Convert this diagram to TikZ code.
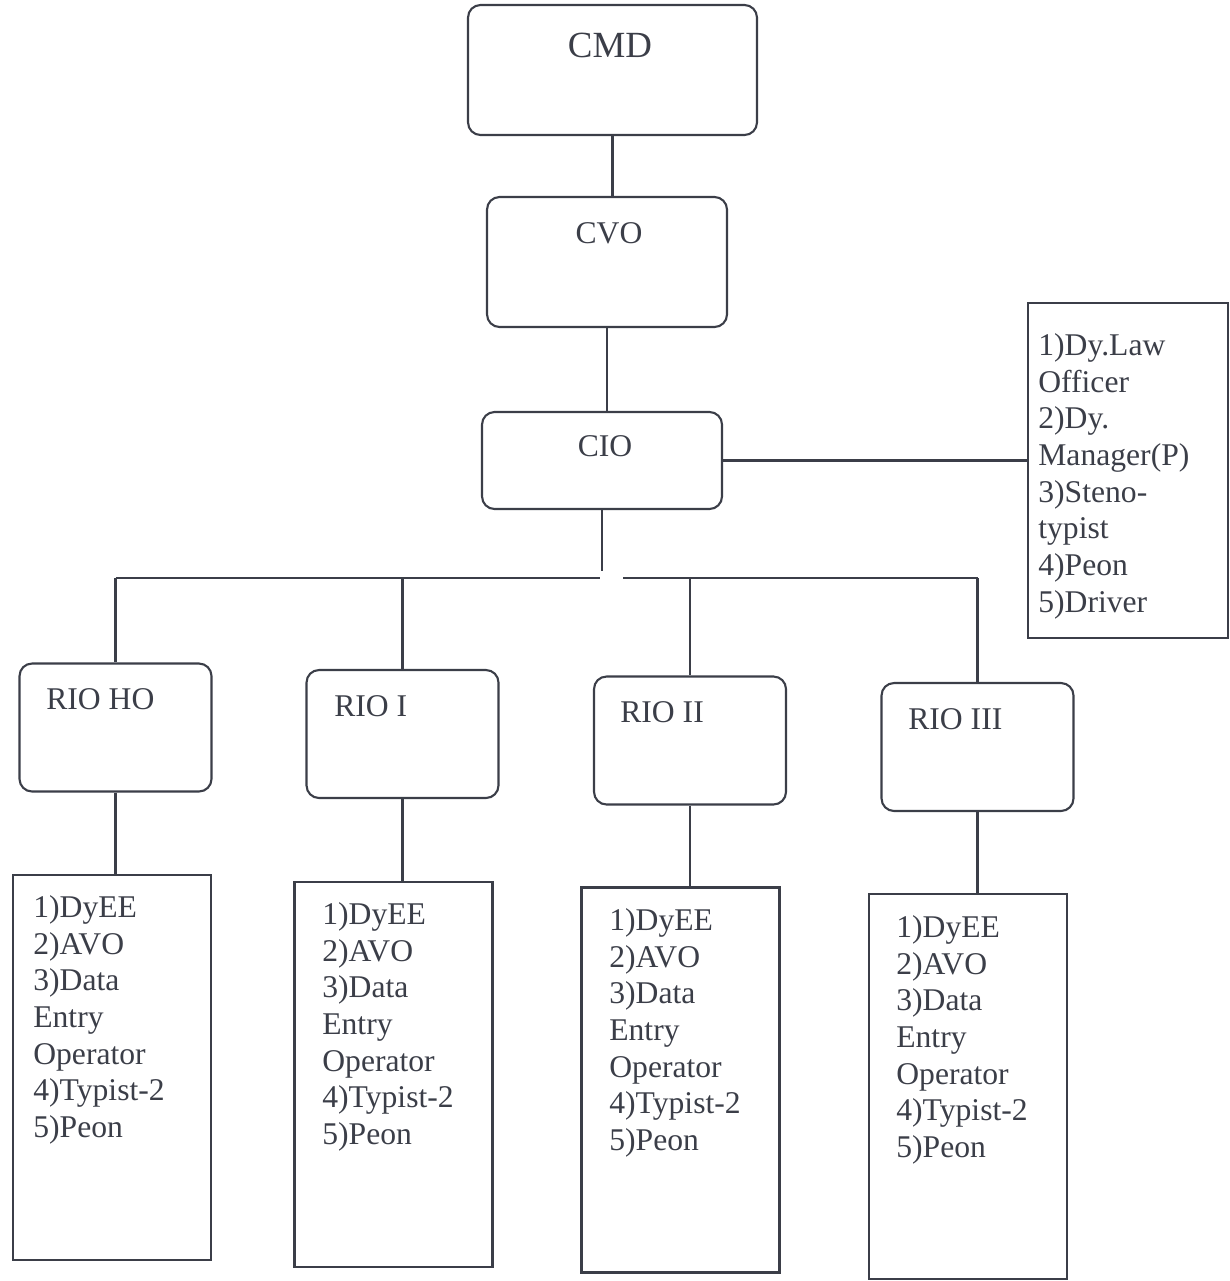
\documentclass[tikz,border=0pt]{standalone}
\usepackage{fontspec}
\setmainfont{Liberation Serif}
\definecolor{ink}{HTML}{3B3E48}
\tikzset{
  office/.style={draw=ink, line width=1.2pt, rounded corners=0.25cm, minimum width=3.84cm, minimum height=2.56cm},
  staffbox/.style={draw=ink, line width=1.2pt, minimum width=3.96cm, minimum height=7.7cm},
  title/.style={text=ink, font=\fontsize{18}{20.9}\selectfont, inner sep=0pt, anchor=base west},
  staff/.style={text=ink, font=\fontsize{18}{20.9}\selectfont, inner sep=0pt, align=left, anchor=north west},
  link/.style={draw=ink, line width=1.2pt}
}
\newcommand{\riostaff}{1)DyEE\\2)AVO\\3)Data\\Entry\\Operator\\4)Typist-2\\5)Peon}

\begin{document}
\begin{tikzpicture}[x=0.02cm, y=-0.02cm]
\useasboundingbox (0,0) rectangle (1230,1281);

\node[office, minimum width=5.78cm, minimum height=2.6cm] (cmd) at (612.5,70) {};
\node[office, minimum width=4.8cm, minimum height=2.6cm] (cvo) at (607,262) {};
\node[office, minimum width=4.8cm, minimum height=1.94cm] (cio) at (602,460.5) {};
\node[staffbox, minimum width=4cm, minimum height=6.7cm] (lawbox) at (1128,470.5) {};
\node[title, anchor=base, font=\fontsize{21}{24}\selectfont] (cmdtext) at (610,57) {CMD};
\node[title, anchor=base] (cvotext) at (609,243) {CVO};
\node[title, anchor=base] (ciotext) at (605,456) {CIO};
\node[staff] (lawtext) at (1038,333) {1)Dy.Law\\Officer\\2)Dy.\\Manager(P)\\3)Steno-\\typist\\4)Peon\\5)Driver};

\foreach \r/\x/\y/\tx/\ty/\name in {rioho/115.5/727.5/46/709/RIO HO, rioi/402.5/734/334/716/RIO I,
    rioii/690/740.5/620/722/RIO II, rioiii/977.5/747/908/729/RIO III}{
  \node[office] (\r) at (\x,\y) {};
  \node[title] (\r text) at (\tx,\ty) {\name};
}
\foreach \s/\x/\y/\tx/\ty in {staffho/112/1067.5/33/895, staffi/393.5/1074.5/322/902,
    staffii/680.5/1080/609/908, staffiii/968/1086.5/896/915}{
  \node[staffbox] (\s) at (\x,\y) {};
  \node[staff] (\s text) at (\tx,\ty) {\riostaff};
}

\coordinate (busl) at (600,578);
\coordinate (busr) at (623,578);
\draw[link] (cmd.south) -- (cmd.south |- cvo.north);
\draw[link] (cvo.south) -- (cvo.south |- cio.north);
\draw[link] (cio.east) -- (cio.east -| lawbox.west);
\draw[link, shorten >=0.14cm] (cio.south) -- (cio.south |- busl);
\draw[link] (rioho.north |- busl) -- (busl);
\draw[link] (busr) -- (rioiii.north |- busr);
\foreach \r in {rioho,rioi,rioii,rioiii}
  \draw[link] (\r.north |- busl) -- (\r.north);
\foreach \r/\s in {rioho/staffho,rioi/staffi,rioii/staffii,rioiii/staffiii}
  \draw[link] (\r.south) -- (\r.south |- \s.north);
\end{tikzpicture}
\end{document}
